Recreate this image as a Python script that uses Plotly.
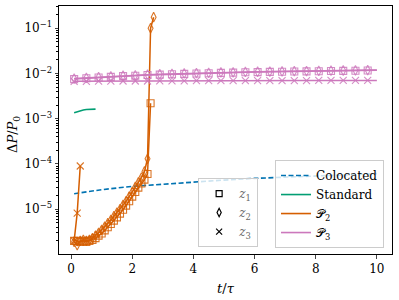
import plotly.graph_objects as go

# ---------------- data ----------------
t_coloc = [0.1, 0.5, 1, 2, 3, 4, 5, 6, 7, 8, 9, 10]
coloc = [2.2e-5, 2.4e-5, 2.7e-5, 3.2e-5, 3.6e-5, 4.0e-5, 4.4e-5, 4.8e-5, 5.1e-5, 5.5e-5, 5.8e-5, 6.1e-5]

t_std = [0.1, 0.2, 0.3, 0.4, 0.5, 0.6, 0.7, 0.8]
std = [1.35e-3, 1.43e-3, 1.5e-3, 1.56e-3, 1.6e-3, 1.62e-3, 1.63e-3, 1.63e-3]

t_p2_z1 = [0.1, 0.2, 0.3, 0.4, 0.5, 0.6, 0.7, 0.8, 0.9, 1.0, 1.1, 1.2, 1.3, 1.4,
           1.5, 1.6, 1.7, 1.8, 1.9, 2.0, 2.1, 2.2, 2.3, 2.4, 2.5, 2.6]
p2_z1 = [2.0e-6, 2.0e-6, 1.9e-6, 2.0e-6, 1.9e-6, 2.0e-6, 2.1e-6, 2.3e-6, 2.6e-6, 2.9e-6,
         3.4e-6, 4.0e-6, 4.7e-6, 5.6e-6, 6.6e-6, 8.0e-6, 9.7e-6, 1.2e-5, 1.5e-5, 1.9e-5,
         2.4e-5, 3.0e-5, 3.7e-5, 4.5e-5, 6.0e-5, 2.2e-3]
t_p2_z2 = [0.1, 0.2, 0.3, 0.4, 0.5, 0.6, 0.7, 0.8, 0.9, 1.0, 1.1, 1.2, 1.3, 1.4,
           1.5, 1.6, 1.7, 1.8, 1.9, 2.0, 2.1, 2.2, 2.3, 2.4, 2.5, 2.6, 2.7]
p2_z2 = [1.9e-6, 1.6e-6, 2.0e-6, 2.1e-6, 2.0e-6, 2.1e-6, 2.3e-6, 2.6e-6, 3.0e-6, 3.5e-6,
         4.1e-6, 4.9e-6, 5.8e-6, 7.0e-6, 8.4e-6, 1.0e-5, 1.25e-5, 1.5e-5, 1.9e-5, 2.4e-5,
         3.1e-5, 3.9e-5, 5.0e-5, 6.8e-5, 1.3e-4, 1.0e-1, 1.75e-1]
t_p2_z3 = [0.1, 0.2, 0.3]
p2_z3 = [2.0e-6, 8.2e-6, 9.0e-5]

t_p3 = [0.1, 0.5, 0.9, 1.3, 1.7, 2.1, 2.5, 2.9, 3.3, 3.7, 4.1, 4.5, 4.9, 5.3, 5.7,
        6.1, 6.5, 6.9, 7.3, 7.7, 8.1, 8.5, 8.9, 9.3, 9.7, 10.0]
p3_z1 = [7.5e-3, 7.8e-3, 8.1e-3, 8.4e-3, 8.7e-3, 8.9e-3, 9.2e-3, 9.4e-3, 9.6e-3, 9.8e-3,
         1.0e-2, 1.01e-2, 1.03e-2, 1.04e-2, 1.06e-2, 1.07e-2, 1.08e-2, 1.09e-2, 1.10e-2,
         1.11e-2, 1.12e-2, 1.13e-2, 1.14e-2, 1.15e-2, 1.16e-2, 1.17e-2]
p3_z2 = [7.7e-3, 8.0e-3, 8.3e-3, 8.6e-3, 8.9e-3, 9.1e-3, 9.4e-3, 9.6e-3, 9.8e-3, 1.0e-2,
         1.02e-2, 1.03e-2, 1.05e-2, 1.06e-2, 1.08e-2, 1.09e-2, 1.10e-2, 1.11e-2, 1.12e-2,
         1.13e-2, 1.14e-2, 1.15e-2, 1.16e-2, 1.17e-2, 1.18e-2, 1.19e-2]
p3_z3 = [6.7e-3, 6.7e-3, 6.75e-3, 6.75e-3, 6.8e-3, 6.8e-3, 6.8e-3, 6.85e-3, 6.85e-3, 6.85e-3,
         6.9e-3, 6.9e-3, 6.9e-3, 6.9e-3, 6.9e-3, 6.95e-3, 6.95e-3, 6.95e-3, 6.95e-3, 6.95e-3,
         7.0e-3, 7.0e-3, 7.0e-3, 7.0e-3, 7.0e-3, 7.0e-3]

ytick_vals = [1e-5, 1e-4, 1e-3, 1e-2, 1e-1]
ytick_text = ["10<sup>−5</sup>", "10<sup>−4</sup>", "10<sup>−3</sup>", "10<sup>−2</sup>", "10<sup>−1</sup>"]
xtick_vals = [0, 2, 4, 6, 8, 10]

# ---------------- style ----------------
C_COLOC = "#0173b2"
C_STD = "#029e73"
C_P2 = "#d55e00"
C_P3 = "#cc78bc"
FONT = "DejaVu Serif"

fig = go.Figure()

fig.add_trace(go.Scatter(x=t_coloc, y=coloc, mode="lines",
                         line=dict(color=C_COLOC, width=1.6, dash="5px,2.5px"),
                         showlegend=False))
fig.add_trace(go.Scatter(x=t_std, y=std, mode="lines",
                         line=dict(color=C_STD, width=1.6), showlegend=False))

def series(x, y, color, symbol, sizes=None):
    m = dict(symbol=symbol, size=7 if sizes is None else sizes, color=color,
             line=dict(color=color, width=1.1), opacity=0.85)
    fig.add_trace(go.Scatter(x=x, y=y, mode="lines+markers",
                             line=dict(color=color, width=1.5),
                             marker=m, showlegend=False))

series(t_p2_z1, p2_z1, C_P2, "square-open")
series(t_p2_z2, p2_z2, C_P2, "diamond-tall-open")
series(t_p2_z3, p2_z3, C_P2, "x-thin-open")

p3_sizes = [7] * (len(t_p3) - 1) + [0]
series(t_p3, p3_z1, C_P3, "square-open", p3_sizes)
series(t_p3, p3_z2, C_P3, "diamond-tall-open", p3_sizes)
series(t_p3, p3_z3, C_P3, "x-thin-open", p3_sizes)

# legend 1 : methods
leg1 = [("Colocated", C_COLOC, "5px,2.5px"), ("Standard", C_STD, "solid"),
        ("𝒫<sub>2</sub>", C_P2, "solid"), ("𝒫<sub>3</sub>", C_P3, "solid")]
for name, c, d in leg1:
    fig.add_trace(go.Scatter(x=[None], y=[None], mode="lines", name=name,
                             line=dict(color=c, width=1.6, dash=d), legend="legend"))

# legend 2 : positions
leg2 = [("<i>z</i><sub>1</sub>", "square-open"), ("<i>z</i><sub>2</sub>", "diamond-tall-open"),
        ("<i>z</i><sub>3</sub>", "x-thin-open")]
for name, s in leg2:
    fig.add_trace(go.Scatter(x=[None], y=[None], mode="markers", name=name,
                             marker=dict(symbol=s, size=6, color="black",
                                         line=dict(color="black", width=1.2)),
                             legend="legend2"))

minor_vals = [m * 10.0 ** e for e in range(-7, 0) for m in range(2, 10)]

fig.update_layout(
    width=399, height=300,
    margin=dict(l=59, r=7, t=6, b=46),
    plot_bgcolor="white", paper_bgcolor="white",
    font=dict(family=FONT, size=12, color="black"),
    xaxis=dict(range=[-0.395, 10.495], tickvals=xtick_vals, ticks="outside", ticklen=3.5,
               showgrid=False, zeroline=False, showline=True, linecolor="black",
               linewidth=1, mirror=True, automargin=False,
               tickfont=dict(size=12)),
    yaxis=dict(type="log", range=[-5.99, -0.51], tickvals=ytick_vals, ticktext=ytick_text,
               ticks="outside", ticklen=3.5, showgrid=False, zeroline=False,
               showline=True, linecolor="black", linewidth=1, mirror=True, automargin=False,
               tickfont=dict(size=12),
               minor=dict(tickvals=minor_vals, ticks="outside", ticklen=2,
                          tickcolor="black", showgrid=False)),
    annotations=[
        dict(text="<i>t</i>/<i>τ</i>", x=0.5, y=-0.1, xref="paper", yref="paper",
             xanchor="center", yanchor="top", showarrow=False, font=dict(size=13)),
        dict(text="Δ<i>P</i>/<i>P</i><sub>0</sub>", x=(14 - 59) / 333, y=0.48,
             xref="paper", yref="paper", xanchor="center", yanchor="middle",
             showarrow=False, textangle=-90, font=dict(size=13)),
    ],
    legend=dict(x=0.976, y=0.024, xanchor="right", yanchor="bottom",
                bgcolor="rgba(255,255,255,0.8)", bordercolor="#cccccc", borderwidth=1,
                font=dict(size=12), tracegroupgap=0, itemwidth=30),
    legend2=dict(x=0.598, y=0.028, xanchor="right", yanchor="bottom",
                 bgcolor="rgba(255,255,255,0.8)", bordercolor="#cccccc", borderwidth=1,
                 font=dict(size=12, color="#666666"), itemwidth=30),
)

fig.write_html("out.html", config={"displayModeBar": False},
               post_script="document.body.style.margin='0';")
